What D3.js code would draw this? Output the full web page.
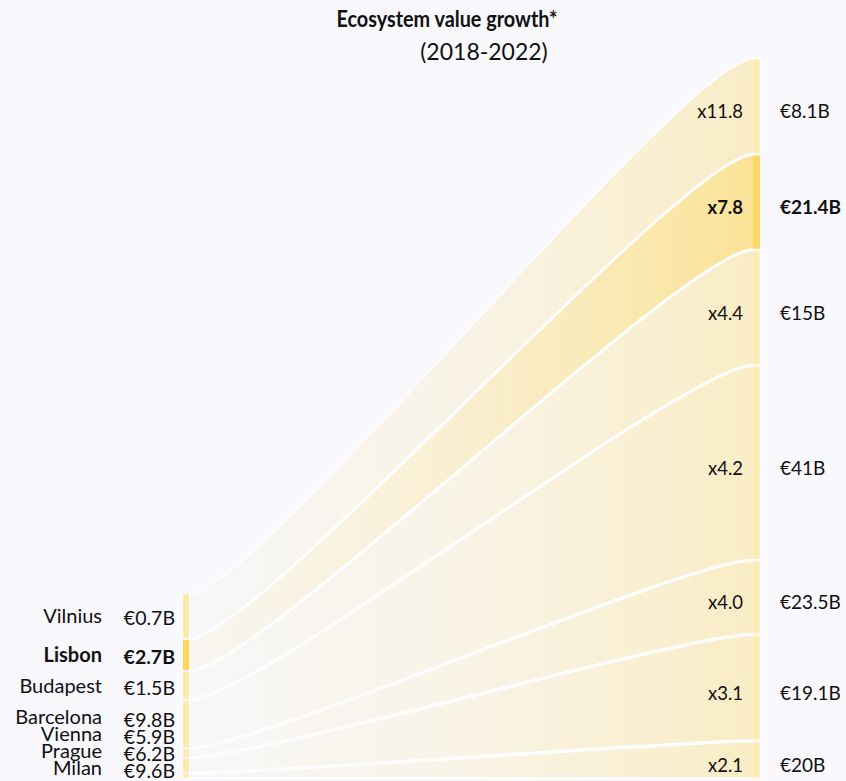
<!DOCTYPE html>
<html>
<head>
<meta charset="utf-8">
<script src="https://cdn.jsdelivr.net/npm/d3@7/dist/d3.min.js"></script>
<style>
  body { margin: 0; background: #f8f8fd; }
  text { font-family: "Source Sans Pro", "Lato", sans-serif; fill: #111; }
</style>
</head>
<body>
<script>
// cities, top to bottom
var cities = ["Vilnius", "Lisbon", "Budapest", "Barcelona", "Vienna", "Prague", "Milan"];
var value2018 = [0.7, 2.7, 1.5, 9.8, 5.9, 6.2, 9.6];     // €B
var value2022 = [8.1, 21.4, 15, 41, 23.5, 19.1, 20];     // €B
var growth = [11.8, 7.8, 4.4, 4.2, 4.0, 3.1, 2.1];
// band thickness as drawn in the picture (relative units)
var band2018 = [44, 30, 27, 46, 7.5, 13.5, 3.5];
var band2022 = [94, 93, 113, 192, 72, 104, 36];
var highlight = "Lisbon";

var width = 846, height = 781;
var chartTop = 59, chartBottom = 778;
var leftX = 183, barW = 6, rightX = 753;
var gap = 2;
var n = cities.length;

var svg = d3.select("body").append("svg")
    .attr("width", width)
    .attr("height", height);

svg.append("rect")
    .attr("width", width)
    .attr("height", height)
    .attr("fill", "#f8f8fd");

// one px scale for both ends
var unit = d3.scaleLinear()
    .domain([0, d3.sum(band2022)])
    .range([0, (chartBottom - chartTop) - gap * (n - 1)]);

// stack right side from top
var right = [], y = chartTop;
band2022.forEach(function(v){
  right.push([y, y + unit(v)]);
  y += unit(v) + gap;
});
// stack left side from bottom
var leftTotal = unit(d3.sum(band2018)) + gap * (n - 1);
var left = []; y = chartBottom - leftTotal;
band2018.forEach(function(v){
  left.push([y, y + unit(v)]);
  y += unit(v) + gap;
});

var x0 = leftX + barW, x1 = rightX;
var curv = 0.12;
function flowPath(l, r){
  var ca = x0 + (x1 - x0) * curv, cb = x1 - (x1 - x0) * curv;
  return "M" + x0 + "," + l[0] +
    "C" + ca + "," + l[0] + " " + cb + "," + r[0] + " " + x1 + "," + r[0] +
    "L" + (x1 + barW + 1) + "," + r[0] +
    "L" + (x1 + barW + 1) + "," + r[1] +
    "L" + x1 + "," + r[1] +
    "C" + cb + "," + r[1] + " " + ca + "," + l[1] + " " + x0 + "," + l[1] + "Z";
}

var defs = svg.append("defs");
cities.forEach(function(c, i){
  var hi = c == highlight;
  var g = defs.append("linearGradient")
      .attr("id", "flow" + i)
      .attr("gradientUnits", "userSpaceOnUse")
      .attr("x1", x0).attr("x2", x1)
      .attr("y1", 0).attr("y2", 0);
  var stops = hi ? [[0, 0.07], [0.5, 0.28], [1, 0.62]] : [[0, 0.03], [0.5, 0.14], [1, 0.34]];
  stops.forEach(function(s){
    g.append("stop")
      .attr("offset", s[0])
      .attr("stop-color", "#fcd75a")
      .attr("stop-opacity", s[1]);
  });
});

// flows
svg.append("g").selectAll("path")
    .data(cities)
    .enter().append("path")
    .attr("d", function(d, i){ return flowPath(left[i], right[i]); })
    .attr("fill", function(d, i){ return "url(#flow" + i + ")"; })
    .attr("stroke", "#ffffff")
    .attr("stroke-width", 1.3);

// end bars
function barColor(d){ return d == highlight ? "#fdd659" : "#fcebac"; }
svg.append("g").selectAll("rect")
    .data(cities)
    .enter().append("rect")
    .attr("x", leftX)
    .attr("y", function(d, i){ return left[i][0]; })
    .attr("width", barW)
    .attr("height", function(d, i){ return left[i][1] - left[i][0]; })
    .attr("fill", barColor);

svg.append("g").selectAll("rect")
    .data(cities)
    .enter().append("rect")
    .attr("x", rightX)
    .attr("y", function(d, i){ return right[i][0]; })
    .attr("width", barW + 1)
    .attr("height", function(d, i){ return right[i][1] - right[i][0]; })
    .attr("fill", barColor)
    .attr("opacity", function(d){ return d == highlight ? 0.85 : 0.6; });

// left labels, pushed apart from the bottom up
function spread(pos, limit, step){
  var out = pos.slice();
  out[n - 1] = Math.min(out[n - 1], limit);
  for (var i = n - 2; i >= 0; i--) out[i] = Math.min(out[i], out[i + 1] - step);
  return out;
}
var mids = left.map(function(s){ return (s[0] + s[1]) / 2; });
var cityY = spread(mids.map(function(m){ return m + 7; }), 775, 17);
var valY = spread(mids.map(function(m){ return m + 9; }), 778, 17);

var fmt = d3.format(".1f");
var bold = function(d){ return d == highlight ? "bold" : "normal"; };

svg.append("g").selectAll("text")
    .data(cities)
    .enter().append("text")
    .attr("x", 102)
    .attr("y", function(d, i){ return cityY[i]; })
    .attr("text-anchor", "end")
    .style("font-size", "20px")
    .style("font-weight", bold)
    .text(function(d){ return d; });

svg.append("g").selectAll("text")
    .data(cities)
    .enter().append("text")
    .attr("x", 175)
    .attr("y", function(d, i){ return valY[i]; })
    .attr("text-anchor", "end")
    .style("font-size", "19.5px")
    .style("font-weight", bold)
    .text(function(d, i){ return "€" + value2018[i] + "B"; });

// right labels
svg.append("g").selectAll("text")
    .data(cities)
    .enter().append("text")
    .attr("x", 743)
    .attr("y", function(d, i){ return (right[i][0] + right[i][1]) / 2 + 12; })
    .attr("text-anchor", "end")
    .style("font-size", "18.5px")
    .style("font-weight", bold)
    .text(function(d, i){ return "x" + fmt(growth[i]); });

svg.append("g").selectAll("text")
    .data(cities)
    .enter().append("text")
    .attr("x", 780)
    .attr("y", function(d, i){ return (right[i][0] + right[i][1]) / 2 + 12; })
    .attr("text-anchor", "start")
    .style("font-size", "19px")
    .style("font-weight", bold)
    .text(function(d, i){ return "€" + value2022[i] + "B"; });

// title
svg.append("text")
    .attr("x", 447)
    .attr("y", 27)
    .attr("text-anchor", "middle")
    .attr("textLength", 221)
    .attr("lengthAdjust", "spacingAndGlyphs")
    .style("font-size", "22.5px")
    .style("font-weight", "bold")
    .text("Ecosystem value growth*");

svg.append("text")
    .attr("x", 484)
    .attr("y", 60)
    .attr("text-anchor", "middle")
    .style("font-size", "23px")
    .text("(2018-2022)");
</script>
</body>
</html>
